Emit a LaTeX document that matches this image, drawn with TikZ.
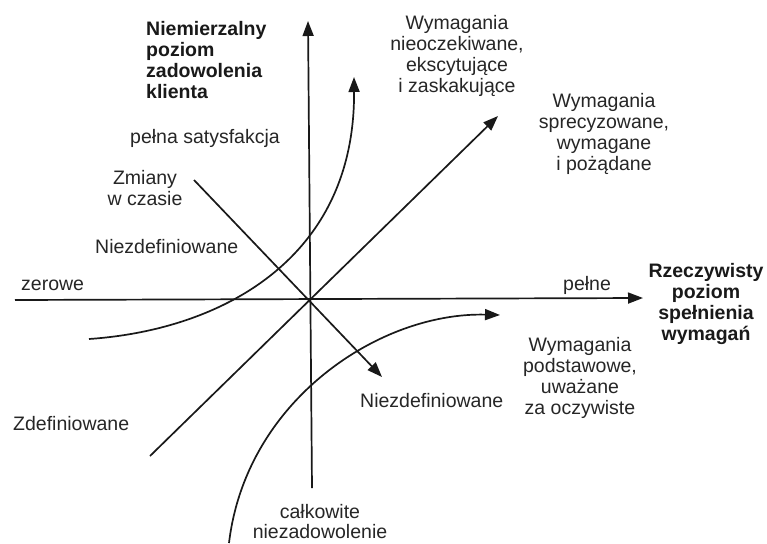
\documentclass[tikz,border=0pt]{standalone}
\usepackage{fontspec}
\setmainfont{Liberation Sans}
\usetikzlibrary{arrows.meta}
\begin{document}
\begin{tikzpicture}[x=1pt,y=-1pt,
  axis/.style={line width=1.7pt, black!90, -{Triangle[length=15pt,width=11pt]}},
  lbl/.style={inner sep=0pt, text=black!85, font=\fontsize{19.5}{21}\selectfont},
  blbl/.style={inner sep=0pt, text=black!90, font=\fontsize{19.5}{21}\selectfont\bfseries},
]
\useasboundingbox (0,0) rectangle (767,543);
\fill[white] (0,0) rectangle (767,543);
\coordinate (xl) at (15,300);
\coordinate (xr) at (643,298);
\coordinate (yt) at (308,21);
\coordinate (yb) at (312,488);
\coordinate (dl) at (150,456);
\coordinate (dr) at (498,116);
\coordinate (al) at (194,180);
\coordinate (ar) at (382,377);
\coordinate (c1s) at (89,339);
\coordinate (c1e) at (354,77);
\coordinate (c2s) at (229,543);
\coordinate (c2e) at (500,315);

\draw[axis] (xl) -- (xr);
\draw[axis] (yb) -- (yt);
\draw[axis] (dl) -- (dr);
\draw[axis] (al) -- (ar);
\draw[axis] (c1s) .. controls (220,330) and (355,260) .. (c1e);
\draw[axis] (c2s) .. controls (246,400) and (380,312) .. (c2e);

\node[blbl, anchor=north west, align=left] (title) at (146,21) {Niemierzalny\\poziom\\zadowolenia\\klienta};
\node[lbl, anchor=north, align=center] (unexp) at (457,15) {Wymagania\\nieoczekiwane,\\ekscytujące\\i zaskakujące};
\node[lbl, anchor=north, align=center] (spec) at (604,93) {Wymagania\\sprecyzowane,\\wymagane\\i pożądane};
\node[lbl, anchor=base west] (full) at (130,143) {pełna satysfakcja};
\node[lbl, anchor=north, align=center] (chg) at (145,170) {Zmiany\\w czasie};
\node[lbl, anchor=base west] (undef1) at (95,253) {Niezdefiniowane};
\node[lbl, anchor=base west] (zero) at (21,290) {zerowe};
\node[lbl, anchor=base west] (pelne) at (563,290) {pełne};
\node[blbl, anchor=north, align=center] (real) at (706,263) {Rzeczywisty\\poziom\\spełnienia\\wymagań};
\node[lbl, anchor=north, align=center] (basic) at (580,337) {Wymagania\\podstawowe,\\uważane\\za oczywiste};
\node[lbl, anchor=base west] (undef2) at (360,407) {Niezdefiniowane};
\node[lbl, anchor=base west] (def) at (13,430) {Zdefiniowane};
\node[lbl, anchor=north, align=center, font=\fontsize{19.5}{20}\selectfont] (dis) at (320,504) {całkowite\\niezadowolenie};
\end{tikzpicture}
\end{document}
